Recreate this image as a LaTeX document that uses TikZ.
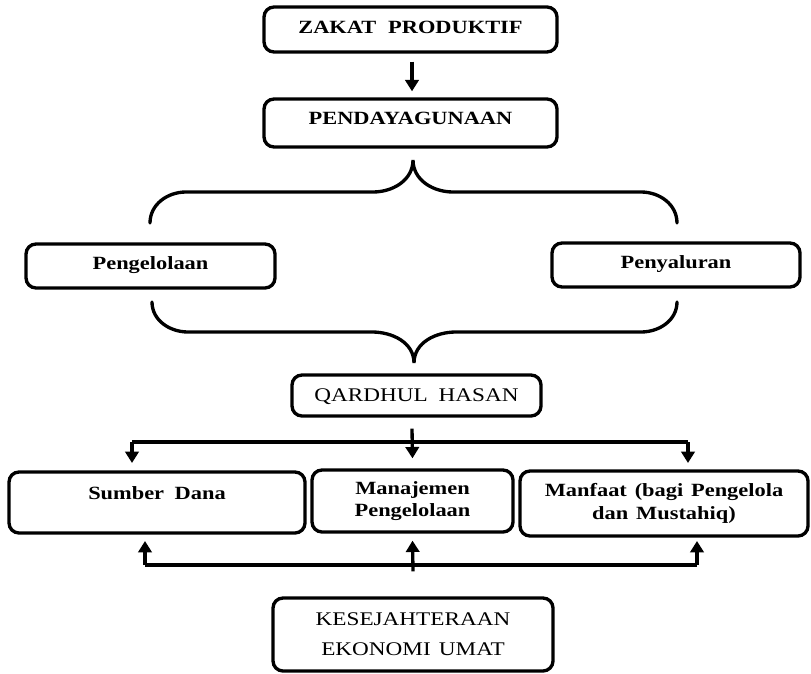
\documentclass[tikz,border=0pt]{standalone}
\usepackage{fontspec}
\setmainfont{Liberation Serif}[FakeStretch=1.2, WordSpace=1.4]
\usetikzlibrary{arrows.meta,calc}
\begin{document}
\begin{tikzpicture}[x=0.75pt,y=-0.75pt,
  box/.style={draw, line width=2.5pt, rounded corners=7.5pt, inner sep=0pt},
  bf/.style={font=\fontsize{14}{17}\selectfont\bfseries},
  rm/.style={font=\fontsize{14.5}{22.5}\selectfont},
  lift/.style={text height=9.5pt, text depth=#1},
  arr/.style={line width=2.5pt, -{Triangle[length=8.5pt,width=10pt]}},
  ln/.style={line width=2.5pt},
  brace/.style={line width=2.5pt, line cap=round}]
\useasboundingbox (0,0) rectangle (811,674);

% boxes
\node[box,bf,lift=3.75pt,minimum width=219.75pt,minimum height=33.75pt] (zakat) at (410.5,29.5) {ZAKAT\hspace{3pt} PRODUKTIF};
\node[box,bf,lift=7.5pt,minimum width=219.75pt,minimum height=36pt] (pend) at (410.5,123) {PENDAYAGUNAAN};
\node[box,bf,lift=4.5pt,minimum width=186.75pt,minimum height=33pt] (peng) at (150.5,266) {Pengelolaan};
\node[box,bf,lift=4.5pt,minimum width=186pt,minimum height=33pt] (peny) at (676,265) {Penyaluran};
\node[box,rm,text height=9.6pt,text depth=0pt,minimum width=186.75pt,minimum height=30.75pt] (qard) at (416.5,395.5) {QARDHUL\hspace{2pt} HASAN};
\node[box,bf,lift=14.5pt,minimum width=222pt,minimum height=45.75pt] (sumber) at (157,502.5) {Sumber\hspace{2pt} Dana};
\node[box,bf,align=center,minimum width=150.75pt,minimum height=46.5pt] (manaj) at (412.5,501) {Manajemen\\Pengelolaan};
\node[box,bf,align=center,minimum width=216pt,minimum height=48.75pt] (manf) at (664,503.5) {Manfaat (bagi Pengelola\\dan Mustahiq)};
\node[box,rm,align=center,minimum width=210pt,minimum height=54.75pt] (kesej) at (413,634.5) {KESEJAHTERAAN\\EKONOMI UMAT};

% top arrow
\draw[arr] ($(zakat.south)+(1.5,8)$) -- ($(pend.north)+(1.5,-6)$);

% braces
\draw[brace] (150,223) to[out=90,in=180] (186,192) -- (373,192)
  to[out=0,in=-90] (413,160) to[out=-90,in=180] (453,192) -- (641,192)
  to[out=0,in=90] (677,223);
\draw[brace] (152,302) to[out=-90,in=180] (188,332) -- (372,332)
  to[out=0,in=90] (414,363) to[out=90,in=180] (456,332) -- (641,332)
  to[out=0,in=-90] (677,302);

% distribution arrows
\coordinate (hl) at (132,442);
\coordinate (hr) at (688,442);
\draw[ln] (hl) -- (hr);
\draw[arr] ($(qard.south)+(-4.5,11)$) -- ($(manaj.north)+(0,-10)$);
\draw[arr] (hl) -- (132,463);
\draw[arr] (hr) -- (688,463);

% feedback arrows
\coordinate (gl) at (145,565);
\coordinate (gr) at (697,565);
\draw[ln] (gl) -- (gr);
\draw[arr] ($(kesej.north)+(0,-25)$) -- ($(manaj.south)+(0,7)$);
\draw[arr] (gl) -- (145,541);
\draw[arr] (gr) -- (697,541);
\end{tikzpicture}
\end{document}
